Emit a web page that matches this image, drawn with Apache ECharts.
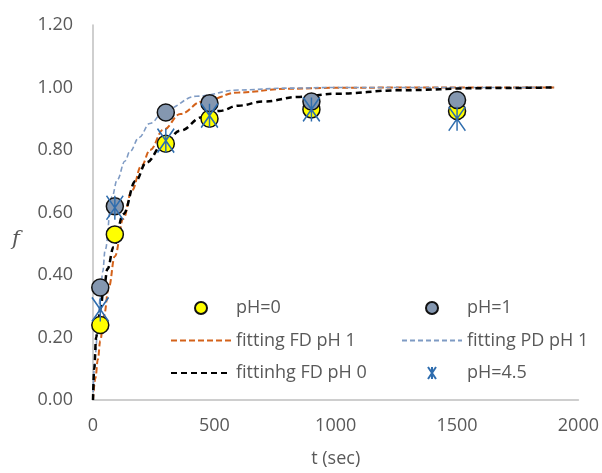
<!DOCTYPE html>
<html>
<head>
<meta charset="utf-8">
<script src="https://cdn.jsdelivr.net/npm/echarts@6/dist/echarts.min.js"></script>
<style>
html,body{margin:0;padding:0;background:#fff;}
#chart{width:602px;height:473px;}
</style>
</head>
<body>
<div id="chart"></div>
<script>
// ---- data ----
const tMeasured = [30, 90, 300, 480, 900, 1500];
const pH0 = [0.24, 0.53, 0.82, 0.90, 0.93, 0.925];
const pH1 = [0.36, 0.62, 0.92, 0.95, 0.955, 0.96];
const pH45 = [0.29, 0.615, 0.83, 0.91, 0.93, 0.90];

const fitFD1_t = [0, 10, 20, 30, 45, 65, 90, 125, 160, 200, 235, 290, 360, 450, 600, 800, 1000, 1300, 1600, 1900];
const fitFD1_f = [0, 0.07, 0.13, 0.19, 0.27, 0.36, 0.46, 0.58, 0.67, 0.75, 0.80, 0.865, 0.915, 0.955, 0.984, 0.996, 0.999, 1.0, 1.0, 1.0];

const fitPD1_t = [0, 5, 10, 20, 30, 40, 50, 78, 100, 132, 152, 190, 234, 300, 425, 600, 800, 1000, 1300, 1600, 1900];
const fitPD1_f = [0, 0.10, 0.15, 0.24, 0.33, 0.41, 0.48, 0.65, 0.705, 0.765, 0.795, 0.84, 0.885, 0.93, 0.972, 0.992, 0.998, 1.0, 1.0, 1.0, 1.0];

const fitFD0_t = [0, 5, 13, 20, 30, 45, 60, 85, 125, 175, 220, 290, 360, 450, 520, 600, 700, 850, 1000, 1260, 1600, 1900];
const fitFD0_f = [0, 0.10, 0.20, 0.24, 0.29, 0.36, 0.42, 0.49, 0.595, 0.70, 0.76, 0.82, 0.862, 0.905, 0.925, 0.942, 0.955, 0.97, 0.98, 0.991, 0.998, 1.0];

const xTicks = {min: 0, max: 2000, interval: 500};
const yTicks = {min: 0, max: 1.2, interval: 0.2};

const names = ['pH=0', 'pH=1', 'fitting FD pH 1', 'fitting PD pH 1', 'fittinhg FD pH 0', 'pH=4.5'];

function pairs(xs, ys) { return xs.map((x, i) => [x, ys[i]]); }

const FONT = '"Open Sans", sans-serif';
const TXT = '#595959';
const starPath = 'path://M0,0L20,24M20,0L0,24M10,0L10,24';
const starLegend = 'path://M0,0L8,12M8,0L0,12M4,0L4,12';

const chart = echarts.init(document.getElementById('chart'), null, {renderer: 'canvas'});
const lineSeries = (name, data, color, width, dash) => ({
  name, type: 'line', data, showSymbol: false, symbol: 'none',
  smooth: 0.4, smoothMonotone: 'x',
  lineStyle: {color, width, type: dash},
  itemStyle: {color},
  z: 2
});
const noSym = {opacity: 0};

const option = {
  animation: false,
  backgroundColor: '#fff',
  textStyle: {fontFamily: FONT},
  grid: {left: 93, right: 21, top: 25, bottom: 72, containLabel: false},
  xAxis: {
    type: 'value', min: xTicks.min, max: xTicks.max, interval: xTicks.interval,
    name: 't (sec)', nameLocation: 'middle', nameGap: 50,
    nameTextStyle: {color: TXT, fontSize: 18, fontFamily: FONT, lineHeight: 18},
    axisLine: {show: true, lineStyle: {color: '#BFBFBF', width: 1.5}},
    axisTick: {show: false},
    splitLine: {show: false},
    axisLabel: {color: TXT, fontSize: 18, fontFamily: FONT, margin: 17, lineHeight: 18,
      formatter: v => String(v)}
  },
  yAxis: {
    type: 'value', min: yTicks.min, max: yTicks.max, interval: yTicks.interval,
    axisLine: {show: true, lineStyle: {color: '#BFBFBF', width: 1.5}},
    axisTick: {show: false},
    splitLine: {show: false},
    axisLabel: {color: TXT, fontSize: 18, fontFamily: FONT, margin: 20,
      formatter: v => v.toFixed(2)}
  },
  graphic: [{
    type: 'text', left: 12, top: 229,
    style: {text: 'f', font: 'italic 21px "DejaVu Serif", serif', fill: TXT}
  }],
  legend: [
    {
      data: [names[0], {name: names[2], itemStyle: noSym}, {name: names[4], itemStyle: noSym}],
      orient: 'vertical', left: 165, top: 293,
      itemWidth: 60, itemHeight: 12, itemGap: 12.5,
      textStyle: {color: TXT, fontSize: 18, fontFamily: FONT, lineHeight: 20},
      selectedMode: false
    },
    {
      data: [names[1], {name: names[3], itemStyle: noSym}, {name: names[5], icon: starLegend}],
      orient: 'vertical', left: 396, top: 293,
      itemWidth: 60, itemHeight: 12, itemGap: 12.5,
      textStyle: {color: TXT, fontSize: 18, fontFamily: FONT, lineHeight: 20},
      selectedMode: false
    }
  ],
  series: [
    lineSeries(names[2], pairs(fitFD1_t, fitFD1_f), '#D4621A', 2, [6, 3]),
    lineSeries(names[3], pairs(fitPD1_t, fitPD1_f), '#7F9BC4', 1.6, [5, 3]),
    lineSeries(names[4], pairs(fitFD0_t, fitFD0_f), '#000000', 2.5, [6, 4]),
    {
      name: names[0], type: 'scatter', data: pairs(tMeasured, pH0),
      symbol: 'circle', symbolSize: 17,
      itemStyle: {color: '#FFFF00', borderColor: '#111', borderWidth: 1.5, opacity: 1},
      z: 3
    },
    {
      name: names[1], type: 'scatter', data: pairs(tMeasured, pH1),
      symbol: 'circle', symbolSize: 17,
      itemStyle: {color: '#8497B0', borderColor: '#111', borderWidth: 1.5, opacity: 1},
      z: 3
    },
    {
      name: names[5], type: 'scatter', data: pairs(tMeasured, pH45),
      symbol: starPath, symbolSize: [20, 24], symbolKeepAspect: true,
      itemStyle: {color: 'rgba(0,0,0,0)', borderColor: '#2F6DAE', borderWidth: 1.6, opacity: 1},
      z: 4
    }
  ]
};
chart.setOption(option);
</script>
</body>
</html>
